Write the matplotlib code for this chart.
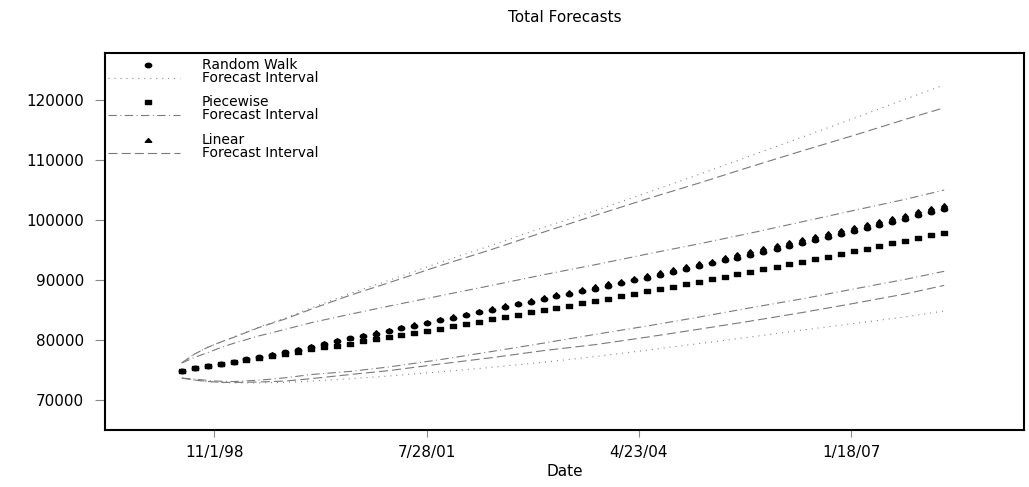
import numpy as np
import pandas as pd
import matplotlib
matplotlib.use("Agg")
import matplotlib.pyplot as plt
from matplotlib.path import Path
from matplotlib.lines import Line2D

plt.rcParams['font.family'] = ['DejaVu Sans']
plt.rcParams['lines.scale_dashes'] = False

# forecast dates, every two months
dates = pd.date_range("1998-06-01", periods=60, freq="2MS")

# point forecasts
random_walk = [74900, 75300, 75650, 76000, 76350, 76750, 77150, 77550, 77950, 78400,
               78850, 79300, 79800, 80250, 80650, 81080, 81500, 81930, 82370, 82850,
               83300, 83720, 84150, 84600, 85020, 85480, 85930, 86380, 86830, 87270,
               87700, 88150, 88580, 89020, 89470, 89930, 90380, 90850, 91330, 91810,
               92280, 92750, 93250, 93730, 94220, 94720, 95200, 95700, 96180, 96680,
               97180, 97680, 98180, 98700, 99210, 99720, 100230, 100760, 101290, 101830]
piecewise = [74900, 75270, 75620, 75960, 76300, 76650, 77000, 77350, 77700, 78050,
             78420, 78760, 79080, 79400, 79760, 80110, 80440, 80850, 81240, 81580,
             81900, 82320, 82690, 83050, 83420, 83820, 84220, 84620, 85000, 85380,
             85720, 86100, 86520, 86900, 87350, 87720, 88120, 88540, 88900, 89360,
             89730, 90160, 90560, 91030, 91390, 91860, 92230, 92700, 93060, 93530,
             93890, 94360, 94820, 95220, 95700, 96120, 96550, 97040, 97450, 97880]
linear = [74900, 75310, 75670, 76040, 76400, 76810, 77220, 77630, 78050, 78510,
          78970, 79430, 79940, 80410, 80820, 81260, 81690, 82130, 82590, 83080,
          83540, 83970, 84410, 84880, 85310, 85780, 86240, 86700, 87170, 87620,
          88060, 88520, 88960, 89420, 89880, 90350, 90810, 91290, 91790, 92280,
          92760, 93240, 93750, 94250, 94750, 95260, 95750, 96260, 96760, 97270,
          97780, 98290, 98800, 99340, 99860, 100380, 100900, 101440, 101990, 102540]

# forecast intervals, read at a subset of the dates
interval_idx = [0, 1, 2, 3, 4, 6, 8, 10, 13, 16, 20, 24, 28, 32, 36, 40, 44, 48, 52, 56, 59]
rw_hi = [76200, 77700, 78800, 79700, 80500, 82200, 83650, 85350, 87750, 89950, 92950,
         95800, 98800, 101550, 104550, 107600, 110700, 113800, 116950, 120150, 122500]
rw_lo = [73640, 73300, 73050, 72900, 72850, 72850, 72950, 73150, 73550, 74000, 74700,
         75450, 76300, 77250, 78300, 79400, 80500, 81650, 82750, 83850, 84830]
pw_hi = [76180, 77110, 77900, 78730, 79460, 80700, 81770, 82890, 84290, 85650, 87380,
         89110, 90890, 92550, 94320, 96030, 97810, 99700, 101600, 103450, 105000]
pw_lo = [73640, 73500, 73250, 73120, 73080, 73300, 73700, 74250, 74760, 75510, 76730,
         78090, 79490, 80940, 82330, 83820, 85370, 86850, 88510, 90110, 91450]
lin_hi = [76200, 77680, 78780, 79660, 80450, 82100, 83500, 85150, 87450, 89550, 92400,
          95100, 98000, 100780, 103520, 106160, 108870, 111510, 114110, 116780, 118700]
lin_lo = [73640, 73320, 73090, 72940, 72930, 73000, 73160, 73560, 74240, 74900, 76000,
          77060, 78240, 79230, 80480, 81800, 83150, 84570, 86100, 87680, 89100]

xtick_dates = ["1998-11-01", "2001-07-28", "2004-04-23", "2007-01-18"]
xtick_labels = ["11/1/98", "7/28/01", "4/23/04", "1/18/07"]
yticks = [70000, 80000, 90000, 100000, 110000, 120000]

# flattened marker shapes like the original device
t = np.linspace(0, 2 * np.pi, 25)
ellipse = Path(np.column_stack([np.cos(t), 0.7 * np.sin(t)]), closed=True)
rect = Path([(-1, -0.7), (1, -0.7), (1, 0.7), (-1, 0.7), (-1, -0.7)], closed=True)
tri = Path([(-1, -0.55), (1, -0.55), (0, 0.6), (-1, -0.55)], closed=True)

dotted = (0.7, 3.6)
dashdot = (6, 2.5, 0.7, 2.5)
dashed = (6.5, 3)
gray = "#7a7a7a"

fig = plt.figure(figsize=(10.29, 4.87), dpi=100)
ax = fig.add_axes([105 / 1029, 1 - 430 / 487, 919 / 1029, 377 / 487])

idates = dates[interval_idx]
ax.plot(idates, rw_hi, color=gray, lw=0.8, dashes=dotted)
ax.plot(idates, rw_lo, color=gray, lw=0.8, dashes=dotted)
ax.plot(idates, pw_hi, color=gray, lw=0.8, dashes=dashdot)
ax.plot(idates, pw_lo, color=gray, lw=0.8, dashes=dashdot)
ax.plot(idates, lin_hi, color=gray, lw=0.8, dashes=dashed)
ax.plot(idates, lin_lo, color=gray, lw=0.8, dashes=dashed)

ax.plot(dates, random_walk, ls="none", marker=ellipse, ms=4.6, color="black")
ax.plot(dates, piecewise, ls="none", marker=rect, ms=4.6, color="black")
ax.plot(dates, linear, ls="none", marker=tri, ms=4.2, color="black")

ax.set_xlim(pd.Timestamp("1997-06-04"), pd.Timestamp("2009-04-12"))
ax.set_ylim(65000, 127833)
ax.set_xticks(pd.to_datetime(xtick_dates))
ax.set_xticklabels(xtick_labels)
ax.set_yticks(yticks)
ax.set_yticklabels([str(v) for v in yticks])
ax.tick_params(axis="y", length=7, width=0.8, color="#888888", pad=8, labelsize=11)
ax.tick_params(axis="x", length=5, width=0.8, color="#888888", pad=6, labelsize=11)
for s in ax.spines.values():
    s.set_linewidth(1.5)
ax.set_xlabel("Date", fontsize=11, labelpad=3)

fig.text((105 + 1024) / 2 / 1029, 1 - 18 / 487, "Total Forecasts", ha="center", va="center", fontsize=11)

# legend drawn by hand, S-Plus style with blank rows between groups
rows = [0.968, 0.935, 0.869, 0.8355, 0.769, 0.736]
labels = ["Random Walk", "Forecast Interval", "Piecewise", "Forecast Interval", "Linear", "Forecast Interval"]
keys = [("m", ellipse), ("l", dotted), ("m", rect), ("l", dashdot), ("m", tri), ("l", dashed)]
for y, lab, (kind, k) in zip(rows, labels, keys):
    if kind == "m":
        ax.add_line(Line2D([0.0468], [y], ls="none", marker=k, ms=4.6, color="black",
                           transform=ax.transAxes, clip_on=False))
    else:
        ax.add_line(Line2D([0.003, 0.0816], [y, y], color=gray, lw=0.8, dashes=k,
                           transform=ax.transAxes))
    ax.text(0.1055, y, lab, transform=ax.transAxes, fontsize=10, va="center", ha="left")

fig.savefig("out.png", dpi=100)
